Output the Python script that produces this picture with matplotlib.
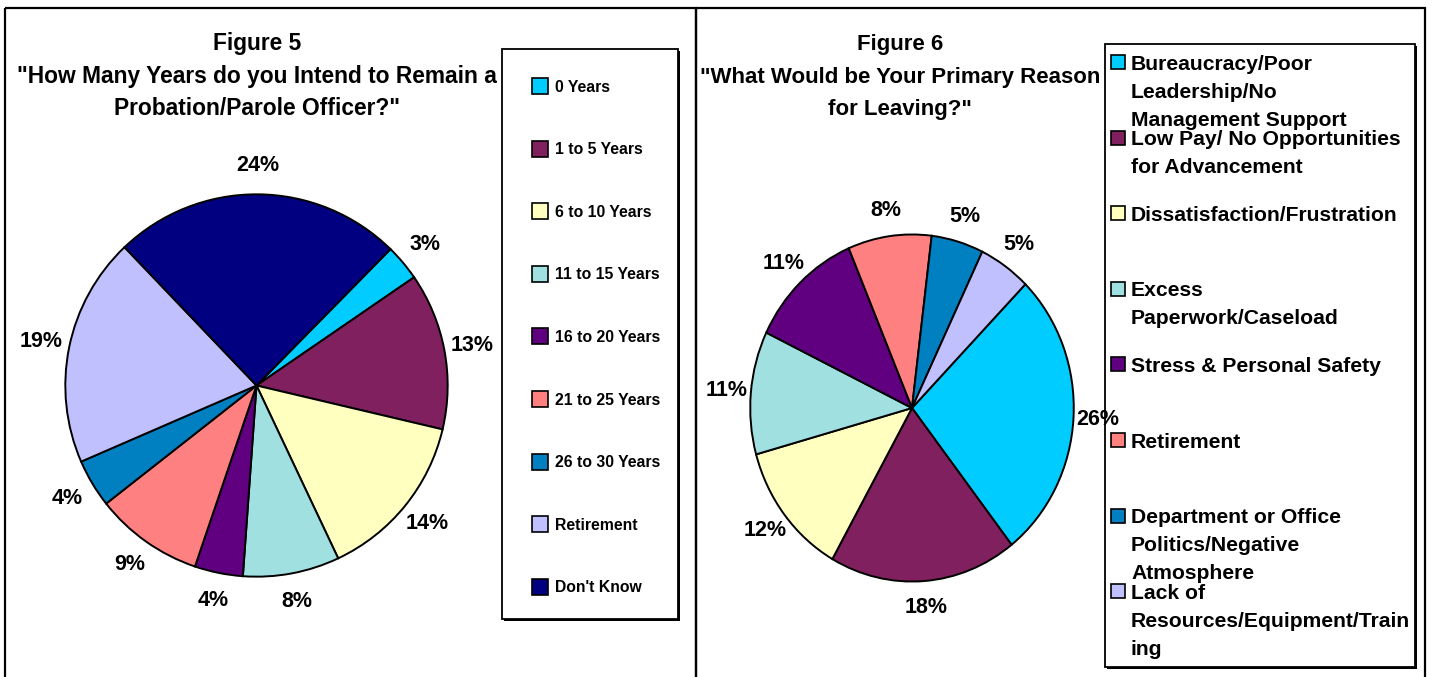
import matplotlib
matplotlib.use("Agg")
import matplotlib.pyplot as plt
from matplotlib.patches import Rectangle
import numpy as np

# ---------------------------------------------------------------- data
years_categories = ["0 Years", "1 to 5 Years", "6 to 10 Years", "11 to 15 Years",
                    "16 to 20 Years", "21 to 25 Years", "26 to 30 Years",
                    "Retirement", "Don't Know"]
years_pct = [3, 13, 14, 8, 4, 9, 4, 19, 24]

reason_categories = ["Bureaucracy/Poor\nLeadership/No\nManagement Support",
                     "Low Pay/ No Opportunities\nfor Advancement",
                     "Dissatisfaction/Frustration",
                     "Excess\nPaperwork/Caseload",
                     "Stress & Personal Safety",
                     "Retirement",
                     "Department or Office\nPolitics/Negative\nAtmosphere",
                     "Lack of\nResources/Equipment/Train\ning"]
reason_pct = [26, 18, 12, 11, 11, 8, 5, 5]

years_colors = ["#00CCFF", "#80205F", "#FFFFC0", "#A0E0E0", "#600080",
                "#FF8080", "#0080C0", "#C0C0FF", "#000080"]
reason_colors = ["#00CCFF", "#80205F", "#FFFFC0", "#A0E0E0", "#600080",
                 "#FF8080", "#0080C0", "#C0C0FF"]

fig5_title = ["Figure 5",
              "\"How Many Years do you Intend to Remain a",
              "Probation/Parole Officer?\""]
fig6_title = ["Figure 6",
              "\"What Would be Your Primary Reason",
              "for Leaving?\""]

# ---------------------------------------------------------------- canvas
W, H = 1432, 677
DPI = 100
FONT = "Liberation Sans"

fig = plt.figure(figsize=(W / DPI, H / DPI), dpi=DPI)
fig.patch.set_facecolor("white")

# overlay in pixel coordinates (origin top-left) for frames, titles, legends
base = fig.add_axes([0, 0, 1, 1], zorder=0)
base.set_xlim(0, W)
base.set_ylim(H, 0)
base.axis("off")


def pie_axes(cx, cy, rx, ry):
    ax = fig.add_axes([(cx - rx) / W, (H - cy - ry) / H, 2 * rx / W, 2 * ry / H],
                      zorder=2)
    return ax


def draw_pie(ax, values, colors, start):
    wedges, _ = ax.pie(values, colors=colors, startangle=start, counterclock=False,
                       radius=1.0, center=(0, 0),
                       wedgeprops=dict(edgecolor="black", linewidth=1.4))
    ax.set_aspect("auto")
    ax.set_xlim(-1.02, 1.02)
    ax.set_ylim(-1.02, 1.02)
    ax.axis("off")
    ax.patch.set_visible(False)
    for w, v in zip(wedges, values):
        mid = np.deg2rad((w.theta1 + w.theta2) / 2.0)
        ax.text(1.15 * np.cos(mid), 1.15 * np.sin(mid), f"{v}%",
                ha="center", va="center", fontsize=15.5, fontweight="bold",
                family=FONT, clip_on=False)


def draw_title(lines, cx, baselines, size):
    for txt, yb in zip(lines, baselines):
        base.text(cx, yb, txt, ha="center", va="baseline", fontsize=size,
                  fontweight="bold", family=FONT, zorder=1)


def legend_box(x0, y0, x1, y1):
    base.add_patch(Rectangle((x0 + 2, y0 + 2), x1 - x0, y1 - y0,
                             facecolor="black", edgecolor="none", zorder=3))
    base.add_patch(Rectangle((x0, y0), x1 - x0, y1 - y0, facecolor="white",
                             edgecolor="black", linewidth=1.3, zorder=4))


# panel frames
base.add_patch(Rectangle((5, 7.5), 691, 700, fill=False, edgecolor="black",
                         linewidth=1.6, zorder=1))
base.add_patch(Rectangle((696, 8), 729, 700, fill=False, edgecolor="black",
                         linewidth=1.6, zorder=1))

# ---------------------------------------------------------------- Figure 5
draw_title(fig5_title, 257, [50, 83, 115], 16.4)
ax5 = pie_axes(256.5, 385.5, 195, 195)
draw_pie(ax5, years_pct, years_colors, 45.5)

legend_box(502, 49, 678, 619)
leg_fs = 11.3
cap = leg_fs * DPI / 72 * 0.716
for i, (name, col) in enumerate(zip(years_categories, years_colors)):
    yc = 86 + 62.6 * i
    base.add_patch(Rectangle((532, yc - 8), 16, 16, facecolor=col,
                             edgecolor="black", linewidth=1.2, zorder=5))
    base.text(555, yc + cap / 2, name, ha="left", va="baseline", fontsize=leg_fs,
              fontweight="bold", family=FONT, zorder=5)

# ---------------------------------------------------------------- Figure 6
draw_title(fig6_title, 900, [50, 83, 115], 16.0)
ax6 = pie_axes(912, 408, 165, 177)
draw_pie(ax6, reason_pct, reason_colors, 45.5)

legend_box(1105, 44, 1415, 667)
leg_fs2 = 15.2
cap2 = leg_fs2 * DPI / 72 * 0.716
for i, (name, col) in enumerate(zip(reason_categories, reason_colors)):
    yc = 62 + 75.6 * i
    base.add_patch(Rectangle((1111, yc - 7), 14, 14, facecolor=col,
                             edgecolor="black", linewidth=1.2, zorder=5))
    for k, line in enumerate(name.split("\n")):
        base.text(1131, yc + 28 * k + cap2 / 2, line, ha="left", va="baseline",
                  fontsize=leg_fs2, fontweight="bold", family=FONT, zorder=5)

fig.savefig("out.png", dpi=DPI, facecolor="white")
